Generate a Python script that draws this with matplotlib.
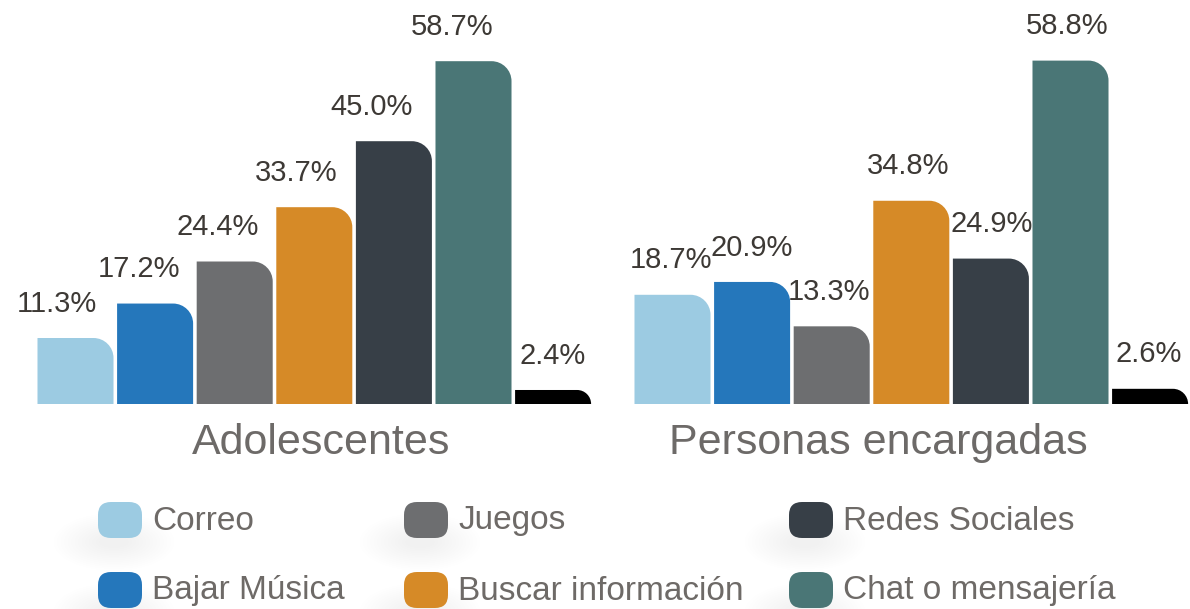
import matplotlib
matplotlib.use("Agg")
import matplotlib.pyplot as plt
from matplotlib.path import Path
from matplotlib.patches import PathPatch, FancyBboxPatch, Ellipse

# ---------------- data ----------------
groups = ["Adolescentes", "Personas encargadas"]
categories = ["Correo", "Bajar Música", "Juegos", "Buscar información",
              "Redes Sociales", "Chat o mensajería", "Otros"]
adolescentes = [11.3, 17.2, 24.4, 33.7, 45.0, 58.7, 2.4]
encargadas = [18.7, 20.9, 13.3, 34.8, 24.9, 58.8, 2.6]
legend_categories = categories[:6]

# ---------------- style ----------------
colors = ["#9ccbe2", "#2577bb", "#6d6e70", "#d68a27", "#373f47", "#4a7676", "#000000"]
plt.rcParams['font.family'] = ['Liberation Sans', 'DejaVu Sans']

W, H = 1190, 609
fig = plt.figure(figsize=(W / 100, H / 100), dpi=100)

PITCH = 79.6          # px per category slot
PX_PER_UNIT = 5.84    # px per percent
BASE = 404            # bar baseline (px from top)
X0 = 75.5             # centre of first bar (px)
GROUP_GAP = 7.50      # slots between group starts
BAR_W = 0.955
R_PX = 20

ax = fig.add_axes([0, 1 - BASE / H, 1, BASE / H])
ax.set_xlim(-X0 / PITCH, (W - X0) / PITCH)
ax.set_ylim(0, BASE / PX_PER_UNIT)
ax.axis("off")


def rounded_bar(rect, color):
    x, y = rect.get_x(), rect.get_y()
    w, h = rect.get_width(), rect.get_height()
    ry = min(R_PX / PX_PER_UNIT, h)
    rx = min(R_PX / PITCH, w / 2) * (ry / (R_PX / PX_PER_UNIT))
    k = 0.5523
    verts = [(x, y), (x, y + h), (x + w - rx, y + h),
             (x + w - rx * (1 - k), y + h), (x + w, y + h - ry * (1 - k)), (x + w, y + h - ry),
             (x + w, y), (x, y)]
    codes = [Path.MOVETO, Path.LINETO, Path.LINETO,
             Path.CURVE4, Path.CURVE4, Path.CURVE4,
             Path.LINETO, Path.CLOSEPOLY]
    ax.add_patch(PathPatch(Path(verts, codes), facecolor=color, edgecolor="none"))


label_dx = [[-19, -16, -17, -18, -22, -21, 0], [-2, 0, -3, -3, 1, -3, -1]]
for g, vals in enumerate([adolescentes, encargadas]):
    xs = [g * GROUP_GAP + i for i in range(len(vals))]
    bars = ax.bar(xs, vals, width=BAR_W, color=colors, alpha=0)
    for i, (rect, v) in enumerate(zip(bars, vals)):
        rounded_bar(rect, colors[i])
        ax.annotate(f"{v:.1f}%", (xs[i], v), xytext=(label_dx[g][i] * 0.72, 19),
                    textcoords="offset points", ha="center", va="baseline",
                    fontsize=21, color="#3d3935")

# ---------------- overlay in pixel coords ----------------
ov = fig.add_axes([0, 0, 1, 1])
ov.set_xlim(0, W)
ov.set_ylim(H, 0)
ov.axis("off")

group_cx = [321, 878]
for name, cx in zip(groups, group_cx):
    ov.text(cx, 443, name, ha="center", va="center", fontsize=31, color="#6d6a68")

leg_x = [98, 404, 789]
leg_y = [520, 590]
for i, cat in enumerate(legend_categories):
    col, row = i // 2, i % 2
    mx, my = leg_x[col], leg_y[row]
    # soft shadow
    for s in range(14):
        ov.add_patch(Ellipse((mx + 16, my + 22), 30 + 7 * s, 12 + 3.5 * s,
                             facecolor="#000000", alpha=0.005, edgecolor="none", zorder=1))
    ov.add_patch(FancyBboxPatch((mx + 4, my - 14), 36, 28,
                                boxstyle="round,pad=4,rounding_size=13",
                                facecolor=colors[i], edgecolor="none", zorder=2))
    ov.text(mx + 54, my + 1, cat, ha="left", va="center", fontsize=24,
            color="#6e6a67", zorder=3)

fig.savefig("out.png", dpi=100)
